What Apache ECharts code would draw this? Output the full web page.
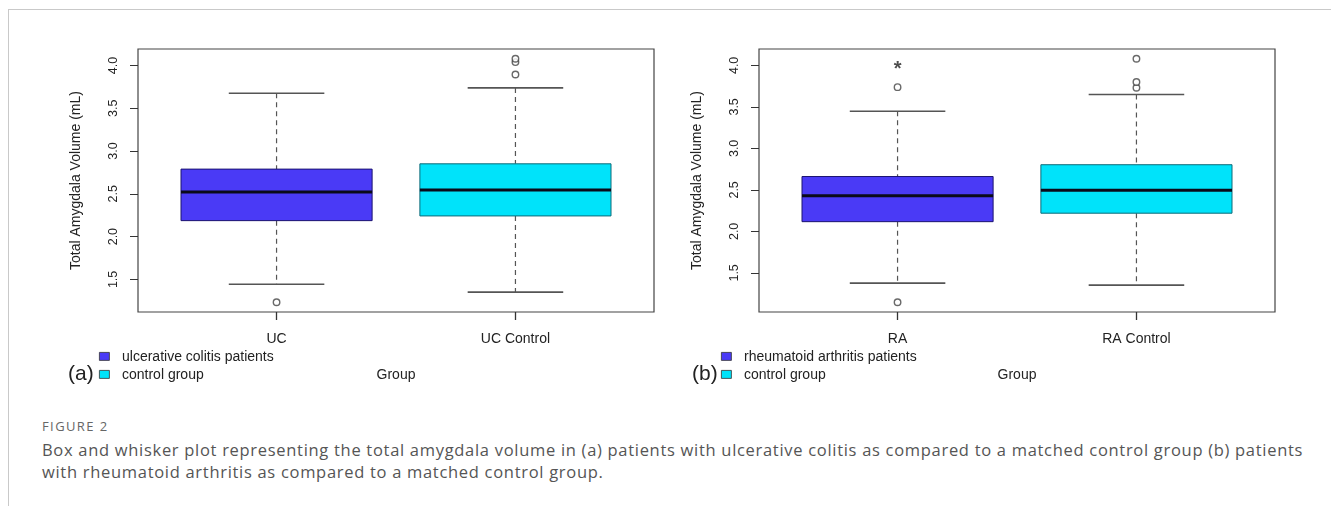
<!DOCTYPE html>
<html>
<head>
<meta charset="utf-8">
<script src="https://cdn.jsdelivr.net/npm/echarts@6/dist/echarts.min.js"></script>
<style>
  html, body { margin: 0; padding: 0; background: #fff; }
  #wrap { position: relative; width: 1331px; height: 506px; overflow: hidden; }
  #frameTop { position: absolute; left: 8px; top: 9px; right: 0; height: 0; border-top: 1px solid #c9c9c9; }
  #frameLeft { position: absolute; left: 8px; top: 9px; bottom: 0; width: 0; border-left: 1px solid #c9c9c9; }
  #chart { position: absolute; left: 0; top: 0; width: 1331px; height: 400px; }
  #figLabel { position: absolute; left: 42px; top: 417px; font-family: "Open Sans", sans-serif; font-size: 13px; letter-spacing: 1.4px; color: #666; }
  #caption { position: absolute; left: 42px; top: 439px; width: 1272px; font-family: "Open Sans", sans-serif; font-size: 16.5px; letter-spacing: 0.7px; line-height: 22px; color: #555; }
</style>
</head>
<body>
<div id="wrap">
  <div id="frameTop"></div>
  <div id="frameLeft"></div>
  <div id="chart"></div>
  <div id="figLabel">FIGURE 2</div>
  <div id="caption">Box and whisker plot representing the total amygdala volume in (a) patients with ulcerative colitis as compared to a matched control group (b) patients with rheumatoid arthritis as compared to a matched control group.</div>
</div>
<script>
// ---------- data ----------
// box stats: [low whisker, Q1, median, Q3, high whisker]
var ucCategories = ['UC', 'UC Control'];
var ucStats = [
  [1.444, 2.187, 2.523, 2.789, 3.675],
  [1.351, 2.242, 2.546, 2.851, 3.738]
];
var ucOutliers = [
  [1, 1.233],
  [2, 3.894], [2, 4.040], [2, 4.079]
];
var raCategories = ['RA', 'RA Control'];
var raStats = [
  [1.376, 2.117, 2.428, 2.661, 3.447],
  [1.352, 2.219, 2.497, 2.803, 3.649]
];
var raOutliers = [
  [1, 1.146], [1, 3.738],
  [2, 3.730], [2, 3.800], [2, 4.080]
];
var raStar = [[1, 4.0]];
var yTicks = [1.5, 2.0, 2.5, 3.0, 3.5, 4.0];
var ucLegend = ['ulcerative colitis patients', 'control group'];
var raLegend = ['rheumatoid arthritis patients', 'control group'];
var boxColors = ['#4a3af6', '#00e3fa'];
var boxBorders = ['#1c1470', '#0d6a78'];

// ---------- helpers ----------
function rangeOf(stats, outs) {
  var vals = [];
  stats.forEach(function (s) { vals = vals.concat(s); });
  outs.forEach(function (o) { vals.push(o[1]); });
  var lo = Math.min.apply(null, vals), hi = Math.max.apply(null, vals);
  var pad = (hi - lo) * 0.04;
  return [lo - pad, hi + pad];
}
function boxData(stats) {
  return stats.map(function (s, i) { return [i + 1].concat(s); });
}
function renderBox(params, api) {
  var x = api.value(0);
  var lo = api.value(1), q1 = api.value(2), med = api.value(3), q3 = api.value(4), hi = api.value(5);
  var idx = params.dataIndex;
  var c = function (xv, yv) { return api.coord([xv, yv]); };
  var bl = c(x - 0.4, q3), br = c(x + 0.4, q1);
  var ml = c(x - 0.4, med), mr = c(x + 0.4, med);
  var top = c(x, hi), bot = c(x, lo);
  var q3p = c(x, q3), q1p = c(x, q1);
  var capL = c(x - 0.2, hi), capR = c(x + 0.2, hi);
  var capL2 = c(x - 0.2, lo), capR2 = c(x + 0.2, lo);
  var dash = { stroke: '#555', lineWidth: 1.2, lineDash: [5, 4] };
  var cap = { stroke: '#555', lineWidth: 1.6 };
  return {
    type: 'group',
    children: [
      { type: 'line', shape: { x1: top[0], y1: top[1], x2: q3p[0], y2: q3p[1] }, style: dash },
      { type: 'line', shape: { x1: q1p[0], y1: q1p[1], x2: bot[0], y2: bot[1] }, style: dash },
      { type: 'line', shape: { x1: capL[0], y1: capL[1], x2: capR[0], y2: capR[1] }, style: cap },
      { type: 'line', shape: { x1: capL2[0], y1: capL2[1], x2: capR2[0], y2: capR2[1] }, style: cap },
      { type: 'rect', shape: { x: bl[0], y: bl[1], width: br[0] - bl[0], height: br[1] - bl[1] },
        style: { fill: boxColors[idx], stroke: boxBorders[idx], lineWidth: 1 } },
      { type: 'line', shape: { x1: ml[0], y1: ml[1], x2: mr[0], y2: mr[1] },
        style: { stroke: '#0a0a1a', lineWidth: 3 } }
    ]
  };
}

var ucRange = rangeOf(ucStats, ucOutliers);
var raRange = rangeOf(raStats, raOutliers);
var FONT = '"Liberation Sans", Arial, sans-serif';
var TXT = '#222';

function xAxisCfg(gi, cats) {
  return {
    type: 'value', gridIndex: gi, min: 0.42, max: 2.58,
    splitLine: { show: false },
    axisLine: { show: false },
    axisTick: { show: true, customValues: [1, 2], length: 8, inside: false, lineStyle: { color: '#333', width: 1.3 } },
    axisLabel: { show: true, customValues: [1, 2], margin: 20, fontFamily: FONT, fontSize: 14, color: TXT,
      formatter: function (v) { return cats[Math.round(v) - 1]; } },
    name: 'Group', nameLocation: 'middle', nameGap: 56,
    nameTextStyle: { fontFamily: FONT, fontSize: 14, color: TXT }
  };
}
function yAxisCfg(gi, rng) {
  return {
    type: 'value', gridIndex: gi, min: rng[0], max: rng[1],
    splitLine: { show: false },
    axisLine: { show: false },
    axisTick: { show: true, customValues: yTicks, length: 8, inside: false, lineStyle: { color: '#333', width: 1 } },
    axisLabel: { show: true, customValues: yTicks, rotate: 90, margin: 18, fontFamily: FONT, fontSize: 12.5, color: TXT,
      formatter: function (v) { return v.toFixed(1); } },
    name: 'Total Amygdala Volume (mL)', nameLocation: 'middle', nameGap: 55,
    nameTextStyle: { fontFamily: FONT, fontSize: 14, color: TXT }
  };
}
function legendGraphics(x0, labels, tag, tagX) {
  var g = [];
  labels.forEach(function (t, i) {
    var y = 352 + i * 18;
    g.push({ type: 'rect', left: x0, top: y, shape: { width: 10, height: 8 },
      style: { fill: boxColors[i], stroke: '#333', lineWidth: 0.8 } });
    g.push({ type: 'text', left: x0 + 23, top: y - 2,
      style: { text: t, fontFamily: FONT, fontSize: 14, fill: TXT } });
  });
  g.push({ type: 'text', left: tagX, top: 364, style: { text: tag, fontFamily: FONT, fontSize: 21, fill: TXT } });
  return g;
}

var option = {
  animation: false,
  grid: [
    { left: 138, top: 49, width: 516, height: 263, show: true, borderColor: '#444', borderWidth: 1.2, backgroundColor: 'transparent' },
    { left: 759, top: 49, width: 516, height: 263, show: true, borderColor: '#444', borderWidth: 1.2, backgroundColor: 'transparent' }
  ],
  xAxis: [xAxisCfg(0, ucCategories), xAxisCfg(1, raCategories)],
  yAxis: [yAxisCfg(0, ucRange), yAxisCfg(1, raRange)],
  series: [
    { type: 'custom', xAxisIndex: 0, yAxisIndex: 0, data: boxData(ucStats), renderItem: renderBox,
      encode: { x: 0, y: [1, 2, 3, 4, 5] }, silent: true },
    { type: 'custom', xAxisIndex: 1, yAxisIndex: 1, data: boxData(raStats), renderItem: renderBox,
      encode: { x: 0, y: [1, 2, 3, 4, 5] }, silent: true },
    { type: 'scatter', xAxisIndex: 0, yAxisIndex: 0, data: ucOutliers, symbol: 'circle', symbolSize: 6.5,
      itemStyle: { color: '#fff', borderColor: '#444', borderWidth: 1.4 }, silent: true },
    { type: 'scatter', xAxisIndex: 1, yAxisIndex: 1, data: raOutliers, symbol: 'circle', symbolSize: 6.5,
      itemStyle: { color: '#fff', borderColor: '#444', borderWidth: 1.4 }, silent: true },
    { type: 'scatter', xAxisIndex: 1, yAxisIndex: 1, data: raStar, symbolSize: 1,
      itemStyle: { color: 'rgba(0,0,0,0)' }, silent: true,
      label: { show: true, position: 'inside', formatter: '*', fontFamily: FONT, fontSize: 20, fontWeight: 'bold', color: '#222', offset: [0, 4] } }
  ],
  graphic: legendGraphics(99, ucLegend, '(a)', 68).concat(legendGraphics(721, raLegend, '(b)', 692))
};

var chart = echarts.init(document.getElementById('chart'), null, { renderer: 'canvas' });
chart.setOption(option);
</script>
</body>
</html>
